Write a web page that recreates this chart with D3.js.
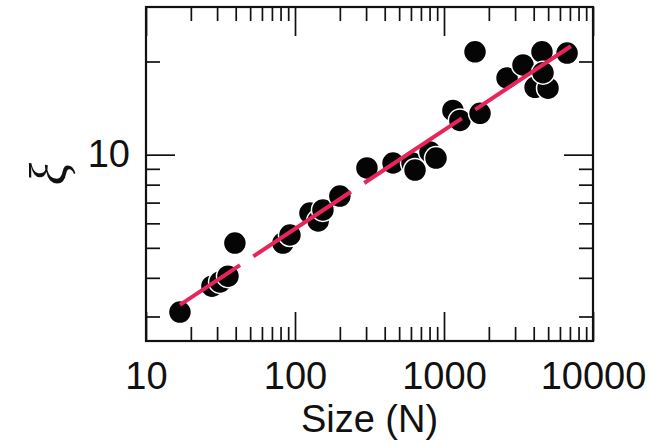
<!DOCTYPE html>
<html>
<head>
<meta charset="utf-8">
<script src="https://cdn.jsdelivr.net/npm/d3@7"></script>
<style>
  body { margin: 0; background: #fff; }
  svg { display: block; }
  text { font-family: "Liberation Sans", Arial, Helvetica, sans-serif; fill: #111; }
</style>
</head>
<body>
<svg id="chart" width="654" height="443"></svg>
<script>
// Correlation length versus system size (log-log)
const sizeN = [16.9, 27.7, 31.4, 35.5, 39.5, 83, 92.5, 126, 143, 154, 200, 304, 455, 610, 639,
               805, 884, 1148, 1279, 1615, 1745, 2649, 3390, 4545, 4085, 4990, 4617, 6700];
const xiValues = [3.10, 3.76, 3.88, 4.05, 5.18, 5.18, 5.50, 6.48, 6.11, 6.63, 7.35, 9.06, 9.40, 9.40, 8.92,
                  10.2, 9.75, 13.9, 12.9, 21.5, 13.6, 17.7, 19.5, 21.5, 16.5, 16.4, 18.4, 21.3];

// Power-law fit endpoints
const fitN = [16.9, 7100];
const fitXi = [3.27, 22.4];

// Axis ticks
const xMajorTicks = [10, 100, 1000, 10000];
const xMinorTicks = [20, 30, 40, 50, 60, 70, 80, 90, 200, 300, 400, 500, 600, 700, 800, 900,
                     2000, 3000, 4000, 5000, 6000, 7000, 8000, 9000];
const yMajorTicks = [10];
const yMinorTicks = [3, 4, 5, 6, 7, 8, 9, 20];
const xTickLabels = ["10", "100", "1000", "10000"];
const yTickLabels = ["10"];

const margin = { left: 146, top: 7, right: 61, bottom: 102 };
const W = 654, H = 443;
const iw = W - margin.left - margin.right;
const ih = H - margin.top - margin.bottom;

const svg = d3.select("#chart");
const g = svg.append("g").attr("transform", `translate(${margin.left},${margin.top})`);

const x = d3.scaleLog().domain([10, 10000]).range([0, iw]);
const y = d3.scaleLog().domain([2.5, 30]).range([ih, 0]);

const majorLen = 29, minorLen = 14;

function styleAxis(sel) {
  sel.select(".domain").remove();
  sel.selectAll(".tick line").attr("stroke", "#111").attr("stroke-width", 1.7);
  sel.selectAll(".tick text").style("font-size", "38px").attr("fill", "#111");
}

// bottom
g.append("g").attr("transform", `translate(0,${ih})`)
  .call(d3.axisBottom(x).tickValues(xMajorTicks).tickSize(-majorLen).tickPadding(21)
    .tickFormat((d, i) => xTickLabels[i]))
  .call(styleAxis);
g.append("g").attr("transform", `translate(0,${ih})`)
  .call(d3.axisBottom(x).tickValues(xMinorTicks).tickSize(-minorLen).tickFormat(""))
  .call(styleAxis);
// top
g.append("g")
  .call(d3.axisTop(x).tickValues(xMajorTicks).tickSize(-majorLen).tickFormat(""))
  .call(styleAxis);
g.append("g")
  .call(d3.axisTop(x).tickValues(xMinorTicks).tickSize(-minorLen).tickFormat(""))
  .call(styleAxis);
// left
g.append("g")
  .call(d3.axisLeft(y).tickValues(yMajorTicks).tickSize(-majorLen).tickPadding(16)
    .tickFormat((d, i) => yTickLabels[i]))
  .call(styleAxis);
g.append("g")
  .call(d3.axisLeft(y).tickValues(yMinorTicks).tickSize(-minorLen).tickFormat(""))
  .call(styleAxis);
// right
g.append("g").attr("transform", `translate(${iw},0)`)
  .call(d3.axisRight(y).tickValues(yMajorTicks).tickSize(-majorLen).tickFormat(""))
  .call(styleAxis);
g.append("g").attr("transform", `translate(${iw},0)`)
  .call(d3.axisRight(y).tickValues(yMinorTicks).tickSize(-minorLen).tickFormat(""))
  .call(styleAxis);

// frame
g.append("rect").attr("width", iw).attr("height", ih)
  .attr("fill", "none").attr("stroke", "#111").attr("stroke-width", 2.2);

// data points
const pts = sizeN.map((n, i) => ({ n, v: xiValues[i] }));
g.append("g").selectAll("circle").data(pts).join("circle")
  .attr("cx", d => x(d.n)).attr("cy", d => y(d.v)).attr("r", 11.5)
  .attr("fill", "#050505").attr("stroke", "#fff").attr("stroke-width", 1.5);

// fit line
const fit = fitN.map((n, i) => [n, fitXi[i]]);
g.append("path").datum(fit)
  .attr("d", d3.line().x(d => x(d[0])).y(d => y(d[1])))
  .attr("fill", "none").attr("stroke", "#e8245c").attr("stroke-width", 4)
  .attr("stroke-dasharray", "117,16").attr("stroke-dashoffset", 45);

// axis titles
svg.append("text")
  .attr("x", margin.left + iw / 2).attr("y", 432)
  .attr("text-anchor", "middle").style("font-size", "38px")
  .text("Size (N)");

svg.append("text")
  .attr("transform", "translate(48,174) rotate(-90)")
  .attr("text-anchor", "middle").attr("dominant-baseline", "central")
  .style("font-family", "'Liberation Serif', 'DejaVu Serif', serif")
  .style("font-style", "italic").style("font-size", "52px")
  .text("ξ");
</script>
</body>
</html>
